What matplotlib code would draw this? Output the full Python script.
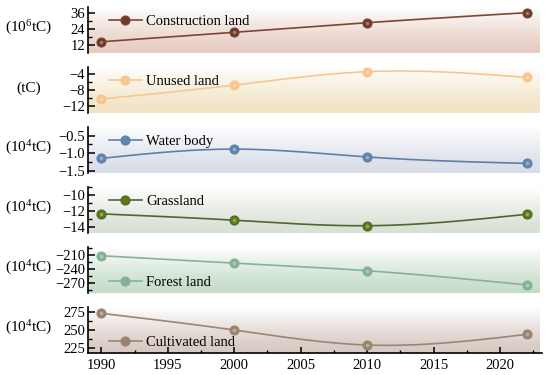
import numpy as np
import matplotlib
matplotlib.use("Agg")
import matplotlib.pyplot as plt
from matplotlib.colors import to_rgb
from matplotlib.ticker import MultipleLocator
from matplotlib.lines import Line2D

plt.rcParams['font.family'] = ['Liberation Serif', 'DejaVu Serif']
plt.rcParams['mathtext.fontset'] = 'custom'
plt.rcParams['mathtext.rm'] = 'Liberation Serif'
plt.rcParams['mathtext.it'] = 'Liberation Serif:italic'

years = [1990, 2000, 2010, 2022]
series_names = ["Construction land", "Unused land", "Water body", "Grassland", "Forest land", "Cultivated land"]
construction = [14.4, 21.4, 28.5, 35.9]
unused = [-10.2, -6.8, -3.5, -4.9]
water = [-1.14, -0.88, -1.10, -1.28]
grassland = [-12.4, -13.2, -13.9, -12.45]
forest = [-212.0, -227.5, -243.6, -273.6]
cultivated = [272.8, 250.0, 229.5, 244.0]
series_values = [construction, unused, water, grassland, forest, cultivated]
units = ["(10$^{6}$tC)", "(tC)", "(10$^{4}$tC)", "(10$^{4}$tC)", "(10$^{4}$tC)", "(10$^{4}$tC)"]
yticks = [[12, 24, 36], [-12, -8, -4], [-1.5, -1.0, -0.5], [-14, -12, -10], [-270, -240, -210], [225, 250, 275]]
ylims = [(6.1, 40.1), (-13.65, -2.35), (-1.55, -0.26), (-14.82, -9.0), (-290.7, -193.5), (218.6, 281.4)]
minor_steps = [6, 2, 0.25, 1, 15, 12.5]
line_colors = ["#7A4636", "#F8C690", "#5E80A8", "#4F6630", "#88B296", "#9C8672"]
marker_colors = ["#6E3A2A", "#F9C58E", "#6285AE", "#5E7A12", "#82B298", "#9A8470"]
bg_colors = ["#E6CCC2", "#F1E3C3", "#D9DDE7", "#D9E0D5", "#C5DCC8", "#D6C8C2"]
legend_locs = ["upper left"] * 4 + ["lower left"] * 2
xticks = [1990, 1995, 2000, 2005, 2010, 2015, 2020]


def natural_spline(x, y, xs):
    x = np.asarray(x, float); y = np.asarray(y, float)
    n = len(x)
    h = np.diff(x)
    A = np.zeros((n, n)); b = np.zeros(n)
    A[0, 0] = 1; A[-1, -1] = 1
    for i in range(1, n - 1):
        A[i, i - 1] = h[i - 1]
        A[i, i] = 2 * (h[i - 1] + h[i])
        A[i, i + 1] = h[i]
        b[i] = 3 * ((y[i + 1] - y[i]) / h[i] - (y[i] - y[i - 1]) / h[i - 1])
    c = np.linalg.solve(A, b)
    out = np.empty_like(xs)
    for k, xv in enumerate(xs):
        i = min(max(np.searchsorted(x, xv) - 1, 0), n - 2)
        dx = xv - x[i]
        bi = (y[i + 1] - y[i]) / h[i] - h[i] * (2 * c[i] + c[i + 1]) / 3
        di = (c[i + 1] - c[i]) / (3 * h[i])
        out[k] = y[i] + bi * dx + c[i] * dx ** 2 + di * dx ** 3
    return out


W, H = 550, 375
fig = plt.figure(figsize=(W / 100, H / 100), dpi=100)
left_px, right_px = 88, 540
tops = [7, 67, 127, 187, 247, 307]
hpx = 46

for i in range(6):
    top = tops[i]
    ax = fig.add_axes([left_px / W, 1 - (top + hpx) / H, (right_px - left_px) / W, hpx / H])
    ax.set_xlim(1989, 2023)
    ax.set_ylim(*ylims[i])
    # gradient background
    c = np.array(to_rgb(bg_colors[i]))
    t = np.linspace(0, 1, 100)[:, None]
    t = t ** 1.3
    grad = (1 - t)[:, :, None] * c + t[:, :, None] * np.ones(3)
    grad = np.repeat(grad, 2, axis=1)
    ax.imshow(grad, extent=[0, 1, 0, 1], transform=ax.transAxes, aspect='auto', zorder=0, origin='lower')
    xs = np.linspace(years[0], years[-1], 300)
    ys = natural_spline(years, series_values[i], xs)
    ax.plot(xs, ys, color=line_colors[i], lw=1.2, zorder=2)
    ax.plot(years, series_values[i], 'o', ms=6.5, mfc=marker_colors[i], mec=line_colors[i], mew=0.8, zorder=3)
    ax.plot(years, series_values[i], 'o', ms=2.5, mfc='white', mec='none', alpha=0.35, zorder=4)
    # legend
    h = Line2D([], [], color=line_colors[i], lw=1.2, marker='o', ms=6.5, mfc=marker_colors[i], mec=line_colors[i], mew=0.8)
    ax.legend([h], [series_names[i]], loc=legend_locs[i], frameon=False, fontsize=10.5,
              handlelength=2.3, handletextpad=0.3, borderaxespad=0.2,
              bbox_to_anchor=(0.026, 1.02) if i < 4 else (0.026, -0.1))
    ax.set_yticks(yticks[i])
    ax.yaxis.set_minor_locator(MultipleLocator(minor_steps[i]))
    ax.tick_params(axis='y', which='major', direction='in', length=5, width=1.1, labelsize=10.5, pad=2)
    ax.tick_params(axis='y', which='minor', direction='in', length=3, width=1.0)
    for s in ['top', 'right']:
        ax.spines[s].set_visible(False)
    ax.spines['left'].set_linewidth(1.2)
    if i < 5:
        ax.spines['bottom'].set_visible(False)
        ax.tick_params(axis='x', which='both', bottom=False, labelbottom=False)
    else:
        ax.spines['bottom'].set_linewidth(1.2)
        ax.spines['bottom'].set_bounds(1989, 2023.15)
        ax.set_xticks(xticks)
        ax.xaxis.set_minor_locator(MultipleLocator(2.5))
        ax.tick_params(axis='x', which='major', direction='in', length=4, width=1.1, labelsize=10.5, pad=4)
        ax.tick_params(axis='x', which='minor', direction='in', length=2, width=1.0)
        ax.spines['bottom'].set_clip_on(False)
    fig.text(29 / W, 1 - (top + hpx / 2 - 2) / H, units[i], ha='center', va='center', fontsize=11)

fig.savefig("out.png", dpi=100)
